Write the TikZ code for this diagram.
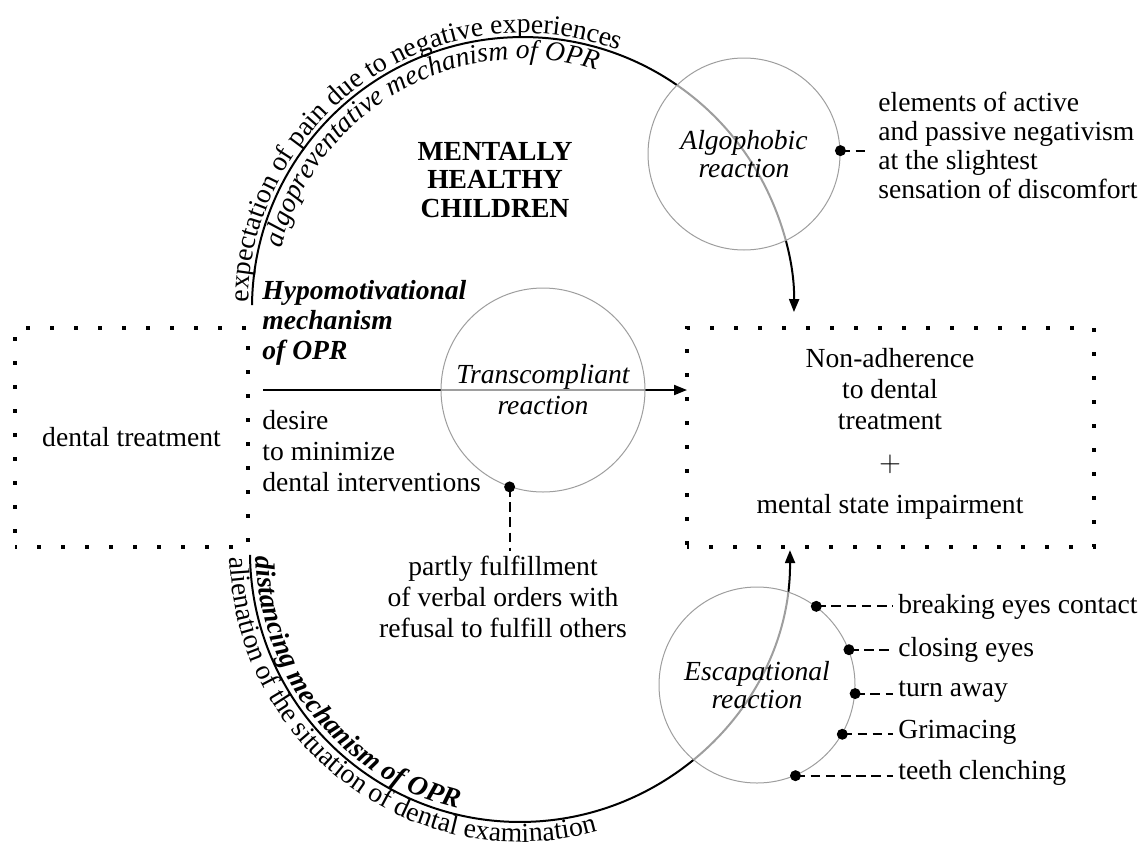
\documentclass[tikz,border=0pt]{standalone}
\usepackage{fontspec}
\setmainfont{Liberation Serif}
\usetikzlibrary{arrows.meta,decorations.text,calc}
\newcommand{\fs}{\fontsize{13.8}{15.5}\selectfont}
\newcommand{\fsn}{\fontsize{13.8}{14.2}\selectfont}
\begin{document}
\begin{tikzpicture}[x=0.5pt,y=0.5pt,
  txt/.style={inner sep=0pt, font=\fs, align=center},
  dotbox/.style={draw, line width=1.75pt, dash pattern=on 1.75pt off 10.25pt,
    dash phase=0.875pt, outer sep=0pt, inner sep=0pt},
  flow/.style={line width=1pt, -{Triangle[length=6.5pt,width=5pt]}},
  reaction/.style={circle, draw=black!38, line width=0.5pt, fill=white,
    fill opacity=0.62, text opacity=1, inner sep=0pt,
    font=\fsn\itshape, align=center},
  leader/.style={line width=1pt, dash pattern=on 4.8pt off 2.8pt},
  esclbl/.style={txt, anchor=west, inner xsep=2.5pt},
]
\useasboundingbox (0,0) rectangle (1145,-841);

% the two dotted boxes
\node[dotbox, font=\fs, minimum width=116.5pt, minimum height=109.5pt]
  (treat) at (131.5,-437.5) {dental treatment};
\node[dotbox, minimum width=203.5pt, minimum height=109.5pt]
  (nonadh) at (890.5,-437.5) {};
\node[txt] (outcome) at (890,-434)
  {Non-adherence\\to dental\\treatment\\[5.5pt]$+$\\[5.5pt]mental state impairment};

% upper pathway with its two captions
\coordinate (topstart) at (252,-305.2);
\draw[flow] (topstart) arc[start angle=179.4, end angle=-0.85, radius=271];
\path[decorate, decoration={text along path,
  text={|\fs|expectation of pain due to negative experiences}}]
  ($(523,-308)+(178.8:275)$) arc[start angle=178.8, end angle=20, radius=275];
\path[decorate, decoration={text along path,
  text={|\fs\itshape|algopreventative mechanism of OPR}}]
  ($(523,-308)+(166.1:249)$) arc[start angle=166.1, end angle=20, radius=249];

% lower pathway with its two captions
\coordinate (botstart) at (250,-554.8);
\draw[flow] (botstart) arc[start angle=180.6, end angle=360.4, radius=270];
\path[decorate, decoration={text along path,
  text={|\fs\bfseries\itshape|distancing mechanism of OPR}}]
  ($(520,-552)+(181:264)$) arc[start angle=181, end angle=340, radius=264];
\path[decorate, decoration={text along path,
  text={|\fs|alienation of the situation of dental examination}}]
  ($(520,-552)+(181:290)$) arc[start angle=181, end angle=340, radius=290];

% middle pathway
\coordinate (hstart) at (263,-390);
\draw[flow] (hstart) -- (hstart -| nonadh.west);

% reaction circles
\node[reaction, minimum size=96pt] (alg) at (744,-154) {Algophobic\\reaction};
\node[reaction, minimum size=102pt, font=\fs\itshape] (trans) at (543,-390)
  {Transcompliant\\reaction};
\node[reaction, minimum size=98pt] (esc) at (757,-685) {Escapational\\reaction};

% free labels
\node[txt, font=\fsn\bfseries] (mhc) at (495,-180) {MENTALLY\\HEALTHY\\CHILDREN};
\node[txt, font=\fontsize{13.8}{15}\selectfont\bfseries\itshape, anchor=west, align=left]
  (hypo) at (262,-323) {Hypomotivational\\mechanism\\of OPR};
\node[txt, anchor=west, align=left] (desire) at (262,-451)
  {desire\\to minimize\\dental interventions};
\node[txt, inner sep=2.25pt] (partly) at (503,-597)
  {partly fulfillment\\of verbal orders with\\refusal to fulfill others};
\node[txt, anchor=west, align=left, inner xsep=5pt, font=\fontsize{13.8}{14.5}\selectfont]
  (elem) at (868,-145)
  {elements of active\\and passive negativism\\at the slightest\\sensation of discomfort};

\node[esclbl] (e1) at (893,-607) {breaking eyes contact};
\node[esclbl] (e2) at (893,-650) {closing eyes};
\node[esclbl] (e3) at (893,-692) {turn away};
\node[esclbl] (e4) at (893,-732) {Grimacing};
\node[esclbl] (e5) at (893,-773) {teeth clenching};

% pins and dashed leaders
\fill (alg.2) circle[radius=2.75pt];
\draw[leader] (alg.2) -- (alg.2 -| elem.west);
\fill (trans.251.2) circle[radius=2.75pt];
\draw[leader] (trans.251.2) -- (trans.251.2 |- partly.north);
\foreach \a/\n in {53.4/e1, 21.3/e2, 355.3/e3, 330.3/e4, 293.7/e5}{
  \fill (esc.\a) circle[radius=2.75pt];
  \draw[leader] (esc.\a) -- (esc.\a -| \n.west);
}
\end{tikzpicture}
\end{document}
